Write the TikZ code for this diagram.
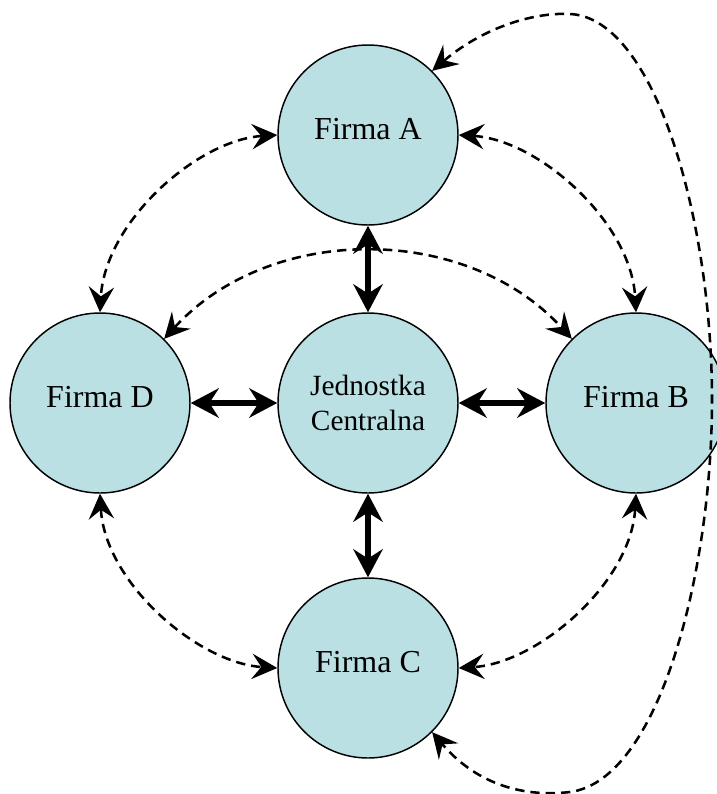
\documentclass[tikz,border=0pt]{standalone}
\usepackage{fontspec}
\setmainfont{Liberation Serif}
\usetikzlibrary{arrows.meta}
\definecolor{cfill}{RGB}{186,224,228}
\tikzset{
  firm/.style={circle, draw=black, line width=1.1pt, fill=cfill, minimum size=135pt, inner sep=0pt,
    font=\fontsize{24}{28}\selectfont, text depth=9.5pt},
  hub/.style={circle, draw=black, line width=1.1pt, fill=cfill, minimum size=135pt, inner sep=0pt,
    font=\fontsize{22}{26}\selectfont, align=center},
  thickarrow/.style={line width=4pt, {Stealth[length=21pt,width=22pt,inset=7pt]}-{Stealth[length=21pt,width=22pt,inset=7pt]}},
  dasharrow/.style={line width=1.9pt, dash pattern=on 7pt off 4.5pt,
    {Stealth[length=19pt,width=19pt,inset=7pt]}-{Stealth[length=19pt,width=19pt,inset=7pt]}}
}
\begin{document}
\begin{tikzpicture}[x=0.75pt,y=0.75pt]
\clip (0,0) rectangle (717,-794);
\node[firm] (A) at (368,-135) {Firma A};
\node[hub]  (J) at (368,-403) {Jednostka\\Centralna};
\node[firm] (D) at (100,-403) {Firma D};
\node[firm] (B) at (636,-403) {Firma B};
\node[firm] (C) at (368,-668) {Firma C};
\coordinate (top) at (570,-14);
\coordinate (rgt) at (712,-400);
\coordinate (bot) at (570,-792);
% thick arrows
\draw[thickarrow] (A) -- (J);
\draw[thickarrow] (D) -- (J);
\draw[thickarrow] (J) -- (B);
\draw[thickarrow] (J) -- (C);
% dashed curves
\draw[dasharrow] (A.west) .. controls (197,-140) and (105,-222) .. (D.north);
\draw[dasharrow] (A.east) .. controls (539,-140) and (631,-222) .. (B.north);
\draw[dasharrow] (D.south) .. controls (105,-583) and (198,-663) .. (C.west);
\draw[dasharrow] (B.south) .. controls (631,-583) and (538,-663) .. (C.east);
\draw[dasharrow] (D.45) .. controls (270,-223) and (466,-223) .. (B.135);
\draw[dasharrow] (A.45) .. controls (480,-30) and (530,-12) .. (top)
  .. controls (655,-18) and (712,-220) .. (rgt)
  .. controls (712,-570) and (660,-780) .. (bot)
  .. controls (500,-800) and (460,-765) .. (C.-45);
\end{tikzpicture}
\end{document}
